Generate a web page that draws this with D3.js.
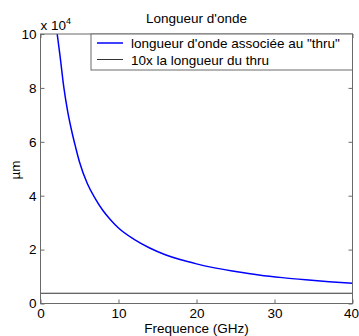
<!DOCTYPE html>
<html>
<head>
<meta charset="utf-8">
<script src="https://cdn.jsdelivr.net/npm/d3@7"></script>
<style>
  html, body { margin: 0; padding: 0; background: #fff; }
  svg { display: block; font-family: "Liberation Sans", Arial, sans-serif; }
</style>
</head>
<body>
<svg id="chart" width="359" height="336"></svg>
<script>
// Frequency (GHz) and guided wavelength (µm) of the line
const frequencies = [2.14, 2.5, 3, 3.5, 4, 4.5, 5, 6, 7, 8, 9, 10, 12, 14, 16, 18, 20, 22, 25, 28, 31, 34, 37, 40];
const wavelengths = [100000, 92000, 80000, 71000, 64000, 58000, 52500, 44500, 39000, 34500, 31000, 28000,
                     23800, 20600, 18100, 16200, 14700, 13400, 11900, 10600, 9600, 8800, 8100, 7500];
// Ten times the thru length (µm), constant over frequency
const thruLevel = 3800;
const xTicks = [0, 10, 20, 30, 40];
const yTicks = [0, 20000, 40000, 60000, 80000, 100000];
const legendLabels = ["longueur d'onde associée au \"thru\"", "10x la longueur du thru"];

const svg = d3.select("#chart");
const m = { left: 40.5, right: 352.5, top: 34, bottom: 303.5 };

const x = d3.scaleLinear().domain([0, 40]).range([m.left, m.right]);
const y = d3.scaleLinear().domain([0, 100000]).range([m.bottom, m.top]);

const axisColor = "#6a6a6a";
const fontSize = 13.5;
const width = 359;

// Plot area clip
svg.append("clipPath").attr("id", "plotClip")
  .append("rect").attr("x", m.left).attr("y", m.top)
  .attr("width", m.right - m.left).attr("height", m.bottom - m.top);

// Axes with inward ticks on all four sides
function styleAxis(g) {
  g.select(".domain").remove();
  g.selectAll(".tick line").attr("stroke", axisColor);
  g.selectAll(".tick text").attr("fill", "#000").attr("font-size", fontSize)
    .attr("font-family", "Liberation Sans, Arial, sans-serif");
}

const xAxisG = svg.append("g").attr("transform", `translate(0,${m.bottom})`)
  .call(d3.axisBottom(x).tickValues(xTicks).tickSize(-4).tickPadding(5).tickFormat(d3.format("d")))
  .call(styleAxis);
// Keep the last tick label inside the page edge
xAxisG.selectAll(".tick text").each(function () {
  const bb = this.getBBox();
  const tx = x(+this.textContent);
  const overflow = tx + bb.x + bb.width - (width - 0.5);
  if (overflow > 0) d3.select(this).attr("x", -overflow);
});

svg.append("g").attr("transform", `translate(0,${m.top})`)
  .call(d3.axisTop(x).tickValues(xTicks).tickSize(-4).tickFormat(""))
  .call(styleAxis);
svg.append("g").attr("transform", `translate(${m.left},0)`)
  .call(d3.axisLeft(y).tickValues(yTicks).tickSize(-4).tickPadding(4).tickFormat(d => d / 10000))
  .call(styleAxis);
svg.append("g").attr("transform", `translate(${m.right},0)`)
  .call(d3.axisRight(y).tickValues(yTicks).tickSize(-4).tickFormat(""))
  .call(styleAxis);

// Data lines
const line = d3.line().x(d => x(d[0])).y(d => y(d[1])).curve(d3.curveMonotoneX);
const plot = svg.append("g").attr("clip-path", "url(#plotClip)");

plot.append("path")
  .datum(frequencies.map((f, i) => [f, wavelengths[i]]))
  .attr("fill", "none").attr("stroke", "#0000ff").attr("stroke-width", 1.5)
  .attr("d", line);

plot.append("path")
  .datum([[0, thruLevel], [40, thruLevel]])
  .attr("fill", "none").attr("stroke", "#333").attr("stroke-width", 1)
  .attr("d", line);

// Box
svg.append("rect").attr("x", m.left).attr("y", m.top)
  .attr("width", m.right - m.left).attr("height", m.bottom - m.top)
  .attr("fill", "none").attr("stroke", axisColor).attr("stroke-width", 1);

// Exponent label
const expo = svg.append("text").attr("x", m.left).attr("y", 30)
  .attr("font-size", fontSize).attr("fill", "#000");
expo.append("tspan").text("x 10");
expo.append("tspan").attr("font-size", 9).attr("dy", -6).text("4");

// Title and axis labels
svg.append("text").attr("x", (m.left + m.right) / 2).attr("y", 23)
  .attr("text-anchor", "middle").attr("font-size", fontSize).text("Longueur d'onde");
svg.append("text").attr("x", (m.left + m.right) / 2).attr("y", 333)
  .attr("text-anchor", "middle").attr("font-size", fontSize).text("Frequence (GHz)");
svg.append("text").attr("transform", `translate(20,170) rotate(-90)`)
  .attr("text-anchor", "middle").attr("font-size", fontSize).text("µm");

// Legend
const lg = svg.append("g");
lg.append("rect").attr("x", 91).attr("y", m.top).attr("width", m.right - 91).attr("height", 36)
  .attr("fill", "#fff").attr("stroke", axisColor);
const legendStyles = [{ c: "#0000ff", w: 1.5 }, { c: "#333", w: 1 }];
legendLabels.forEach((t, i) => {
  const yy = 43 + i * 16.5;
  lg.append("line").attr("x1", 97).attr("x2", 123).attr("y1", yy).attr("y2", yy)
    .attr("stroke", legendStyles[i].c).attr("stroke-width", legendStyles[i].w);
  lg.append("text").attr("x", 131).attr("y", yy + 5).attr("font-size", fontSize).text(t);
});
</script>
</body>
</html>
